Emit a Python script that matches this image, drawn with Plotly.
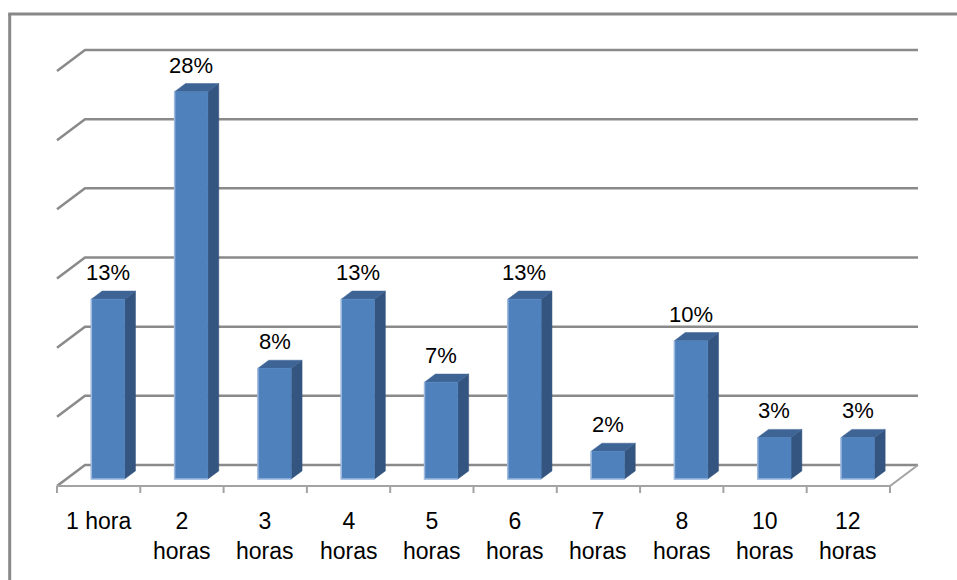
import plotly.graph_objects as go

# Share of respondents by number of hours
categories = ["1 hora", "2 horas", "3 horas", "4 horas", "5 horas",
              "6 horas", "7 horas", "8 horas", "10 horas", "12 horas"]
tick_labels = ["1 hora", "2<br>horas", "3<br>horas", "4<br>horas", "5<br>horas",
               "6<br>horas", "7<br>horas", "8<br>horas", "10<br>horas", "12<br>horas"]
values = [13, 28, 8, 13, 7, 13, 2, 10, 3, 3]
grid_values = [0, 5, 10, 15, 20, 25, 30]

W, H = 957, 580
PX_PER_CAT = 83.3       # horizontal pixels per category slot
PX_PER_PCT = 13.833     # vertical pixels per percentage point
X0_PX, Y0_PX = 98.65, 486.0   # centre of first slot / front floor edge

# oblique depth of the floor, expressed in data units
DX = 28 / PX_PER_CAT
DY = 21 / PX_PER_PCT
F0, F1 = 1 / 3, 0.72    # bar front/back depth fractions
HALF = 0.2              # half bar width in category units

FRONT = "#4F81BD"
SIDE = "#34557F"
TOP = "#3E6496"
EDGE = "#9DB9DE"
GRID = "#8A8A8A"
FLOOR = "#A3A3A3"

fig = go.Figure()

# back-wall gridlines with their slanted left-wall stubs
gx, gy = [], []
n = len(categories)
for g in grid_values:
    gx += [-0.5, -0.5 + DX, n - 0.5 + DX, None]
    gy += [g, g + DY, g + DY, None]
fig.add_trace(go.Scatter(x=gx, y=gy, mode="lines",
                         line=dict(color=GRID, width=2.5),
                         hoverinfo="skip", showlegend=False))

# floor front edge, right edge and tick marks
fx = [-0.5, n - 0.5, n - 0.5 + DX, None]
fy = [0, 0, DY, None]
tick_len = 7 / PX_PER_PCT
for k in range(n + 1):
    fx += [-0.5 + k, -0.5 + k, None]
    fy += [0, -tick_len, None]
fig.add_trace(go.Scatter(x=fx, y=fy, mode="lines",
                         line=dict(color=FLOOR, width=2),
                         hoverinfo="skip", showlegend=False))


def face(xs, ys, color):
    fig.add_trace(go.Scatter(x=xs + [xs[0]], y=ys + [ys[0]], mode="lines",
                             fill="toself", fillcolor=color,
                             line=dict(color=color, width=0.5),
                             hoverinfo="skip", showlegend=False))


for i, v in enumerate(values):
    xl0, xr0 = i - HALF + F0 * DX, i + HALF + F0 * DX
    xl1, xr1 = i - HALF + F1 * DX, i + HALF + F1 * DX
    yb0, yb1 = F0 * DY, F1 * DY
    yt0, yt1 = v + F0 * DY, v + F1 * DY
    # right side
    face([xr0, xr1, xr1, xr0], [yb0, yb1, yt1, yt0], SIDE)
    # top
    face([xl0, xr0, xr1, xl1], [yt0, yt0, yt1, yt1], TOP)
    # front
    face([xl0, xr0, xr0, xl0], [yb0, yb0, yt0, yt0], FRONT)
    # light rim on front left and bottom edges
    fig.add_trace(go.Scatter(x=[xl0, xl0, xr0], y=[yt0, yb0, yb0], mode="lines",
                             line=dict(color=EDGE, width=1.5),
                             hoverinfo="skip", showlegend=False))
    fig.add_annotation(x=i + F0 * DX, y=yt1, text=f"{v}%", showarrow=False,
                       yanchor="bottom", yshift=4,
                       font=dict(family="Liberation Sans, Arial", size=22, color="#000000"))

for i, lab in enumerate(tick_labels):
    fig.add_annotation(x=i, y=(Y0_PX - 506) / PX_PER_PCT, text=lab, showarrow=False,
                       yanchor="top", align="center",
                       font=dict(family="Liberation Sans, Arial", size=23, color="#000000"))

# outer chart frame (left and top edges)
fig.add_shape(type="line", xref="paper", yref="paper",
              x0=9.7 / W, x1=9.7 / W, y0=0, y1=1 - 14 / H,
              line=dict(color="#888888", width=3))
fig.add_shape(type="line", xref="paper", yref="paper",
              x0=8.2 / W, x1=1, y0=1 - 14 / H, y1=1 - 14 / H,
              line=dict(color="#888888", width=3))

fig.update_layout(
    width=W, height=H, autosize=False,
    margin=dict(l=0, r=0, t=0, b=0),
    paper_bgcolor="white", plot_bgcolor="white",
    xaxis=dict(range=[-X0_PX / PX_PER_CAT, (W - X0_PX) / PX_PER_CAT],
               visible=False, fixedrange=True),
    yaxis=dict(range=[(Y0_PX - H) / PX_PER_PCT, Y0_PX / PX_PER_PCT],
               visible=False, fixedrange=True),
)

fig.write_html("out.html")
